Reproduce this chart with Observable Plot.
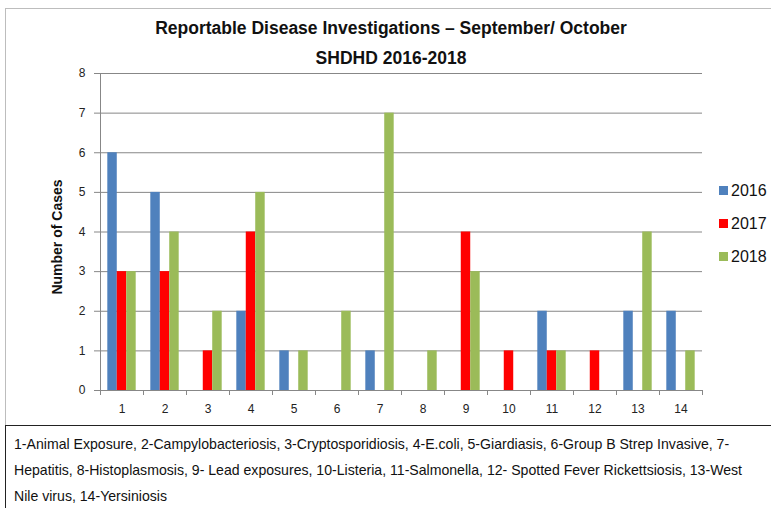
<!DOCTYPE html>
<html>
<head>
<meta charset="utf-8">
<script src="https://cdn.jsdelivr.net/npm/d3@7"></script>
<script src="https://cdn.jsdelivr.net/npm/@observablehq/plot@0.6"></script>
<style>
  html, body { margin: 0; padding: 0; background: #fff; }
  #wrap { position: relative; width: 771px; height: 508px; overflow: hidden; font-family: "Liberation Sans", sans-serif; color: #111; }
  #chartbox { position: absolute; left: 5px; top: 8px; width: 800px; height: 417px; border-top: 1px solid #bdbdbd; border-left: 1px solid #bdbdbd; box-sizing: border-box; }
  #footer { position: absolute; left: 5px; top: 425px; width: 800px; height: 100px; border-top: 1.5px solid #222; border-left: 1.5px solid #222; box-sizing: border-box; }
  .title { position: absolute; left: 0; width: 782px; text-align: center; font-weight: bold; font-size: 17.5px; }
  #ylabel { position: absolute; left: 57px; top: 237px; transform: translate(-50%, -50%) rotate(-90deg); font-weight: bold; font-size: 14px; white-space: nowrap; }
  .leg { position: absolute; left: 719px; font-size: 16px; line-height: 1; }
  .leg span.sw { display: inline-block; width: 9px; height: 9px; margin-right: 3px; vertical-align: 1px; }
  #key { position: absolute; left: 14px; top: 431px; font-size: 14.1px; line-height: 26px; width: 760px; white-space: nowrap; }
  #plot { position: absolute; left: 0; top: 0; }
</style>
</head>
<body>
<div id="wrap">
  <div id="chartbox"></div>
  <div id="footer"></div>
  <div id="plot"></div>
  <div class="title" id="t1" style="top: 18px;"></div>
  <div class="title" id="t2" style="top: 48px;"></div>
  <div id="ylabel"></div>
  <div id="legend"></div>
  <div id="key"></div>
</div>
<script>
const titleLine1 = "Reportable Disease Investigations \u2013 September/ October";
const titleLine2 = "SHDHD 2016-2018";
const yAxisLabel = "Number of Cases";
const categories = [1, 2, 3, 4, 5, 6, 7, 8, 9, 10, 11, 12, 13, 14];
const years = ["2016", "2017", "2018"];
const cases2016 = [6, 5, 0, 2, 1, 0, 1, 0, 0, 0, 2, 0, 2, 2];
const cases2017 = [3, 3, 1, 4, 0, 0, 0, 0, 4, 1, 1, 1, 0, 0];
const cases2018 = [3, 4, 2, 5, 1, 2, 7, 1, 3, 0, 1, 0, 4, 1];
const yTicks = [0, 1, 2, 3, 4, 5, 6, 7, 8];
const colors = ["#4F81BD", "#FF0000", "#9BBB59"];
const keyLines = [
  "1-Animal Exposure, 2-Campylobacteriosis, 3-Cryptosporidiosis, 4-E.coli, 5-Giardiasis, 6-Group B Strep Invasive, 7-",
  "Hepatitis, 8-Histoplasmosis, 9- Lead exposures, 10-Listeria, 11-Salmonella, 12- Spotted Fever Rickettsiosis, 13-West",
  "Nile virus, 14-Yersiniosis"
];

const series = [cases2016, cases2017, cases2018];
const barWidth = 0.22;
const rows = [];
years.forEach((yr, k) => {
  categories.forEach((c, i) => {
    rows.push({cat: c, year: yr, k, value: series[k][i]});
  });
});
const boundaries = categories.map(c => c - 0.5).concat([categories[categories.length - 1] + 0.5]);

const chart = Plot.plot({
  width: 771,
  height: 425,
  marginTop: 73,
  marginBottom: 35,
  marginLeft: 100,
  marginRight: 69,
  style: {fontFamily: "Liberation Sans, sans-serif", fontSize: "12px", color: "#222", background: "transparent"},
  x: {type: "linear", domain: [0.5, 14.5], axis: null},
  y: {domain: [0, 8], axis: null},
  color: {domain: years, range: colors},
  marks: [
    Plot.gridY(yTicks, {stroke: "#878787", strokeOpacity: 1}),
    Plot.axisY(yTicks, {tickSize: 6, tickPadding: 9, label: null, stroke: "#878787"}),
    Plot.axisX(boundaries, {tickSize: 5, tickFormat: () => "", label: null, stroke: "#878787"}),
    Plot.axisX(categories, {tickSize: 0, tickPadding: 14, label: null}),
    Plot.ruleX([0.5], {stroke: "#878787"}),
    Plot.ruleY([0], {stroke: "#878787"}),
    Plot.rectY(rows, {
      x1: d => d.cat - 1.5 * barWidth + d.k * barWidth,
      x2: d => d.cat - 1.5 * barWidth + (d.k + 1) * barWidth,
      y1: 0,
      y2: "value",
      fill: "year"
    })
  ]
});
document.getElementById("plot").appendChild(chart);

document.getElementById("t1").textContent = titleLine1;
document.getElementById("t2").textContent = titleLine2;
document.getElementById("ylabel").textContent = yAxisLabel;
const legend = document.getElementById("legend");
years.forEach((yr, k) => {
  const d = document.createElement("div");
  d.className = "leg";
  d.style.top = (183 + k * 33) + "px";
  d.innerHTML = `<span class="sw" style="background:${colors[k]}"></span>${yr}`;
  legend.appendChild(d);
});
document.getElementById("key").innerHTML = keyLines.map(l => `<div>${l}</div>`).join("");
</script>
</body>
</html>
